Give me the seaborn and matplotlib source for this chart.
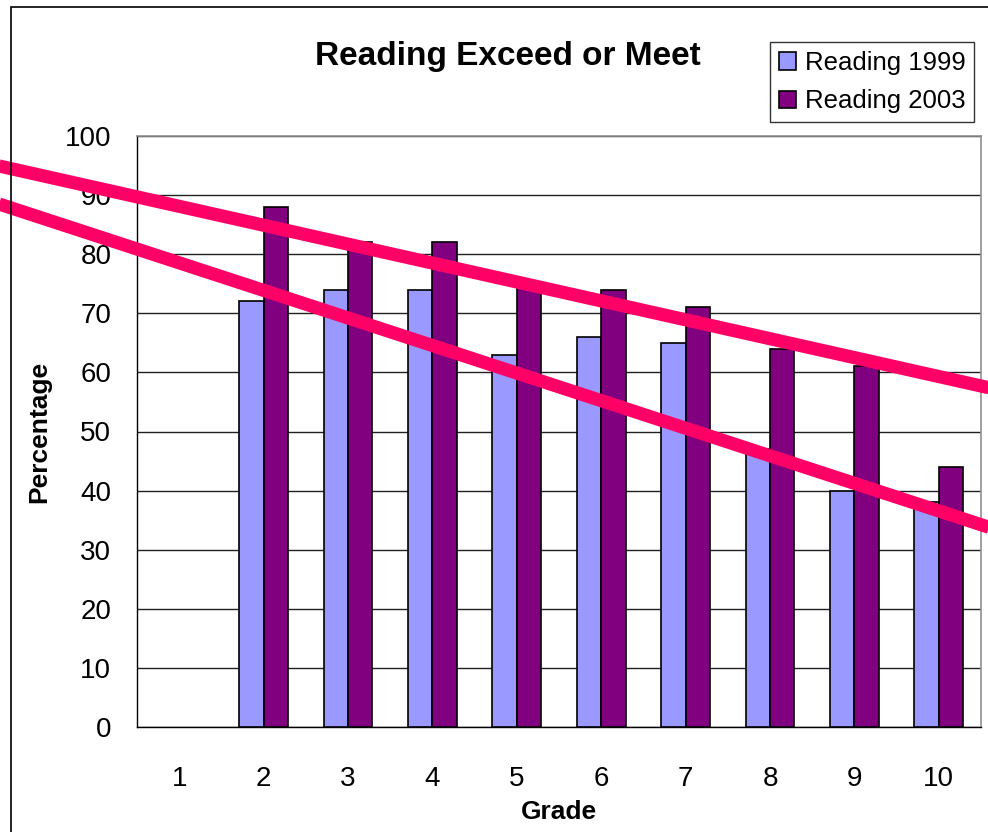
import numpy as np
import pandas as pd
import seaborn as sns
import matplotlib
matplotlib.use("Agg")
import matplotlib.pyplot as plt
from matplotlib.patches import Rectangle

# Data: percentage of students that exceed or meet the reading standard
grades = ["1", "2", "3", "4", "5", "6", "7", "8", "9", "10"]
reading_1999 = [np.nan, 72, 74, 74, 63, 66, 65, 47, 40, 38]
reading_2003 = [np.nan, 88, 82, 82, 75, 74, 71, 64, 61, 44]
series_names = ["Reading 1999", "Reading 2003"]
series_colors = ["#9999FF", "#800080"]
y_ticks = [0, 10, 20, 30, 40, 50, 60, 70, 80, 90, 100]

# Hand-drawn trend lines (grade index on x, percentage on y)
trend_x = [-2.5, 10.0]
trend_upper = [96.1, 56.1]
trend_lower = [90.2, 31.9]

df = pd.DataFrame({
    "Grade": grades * 2,
    "Percentage": reading_1999 + reading_2003,
    "Series": [series_names[0]] * len(grades) + [series_names[1]] * len(grades),
})

sns.set_style("white")
plt.rcParams["font.family"] = ["Liberation Sans", "DejaVu Sans"]
plt.rcParams["text.color"] = "black"
plt.rcParams["axes.labelcolor"] = "black"
plt.rcParams["xtick.color"] = "black"
plt.rcParams["ytick.color"] = "black"

W, H = 988, 832
fig = plt.figure(figsize=(W / 100, H / 100), dpi=100)
ax = fig.add_axes([137 / W, 1 - 727 / H, (981 - 137) / W, (727 - 136) / H])

sns.barplot(data=df, x="Grade", y="Percentage", hue="Series", order=grades,
            hue_order=series_names, palette=series_colors, width=0.58,
            edgecolor="black", linewidth=1.2, saturation=1, errorbar=None,
            ax=ax, zorder=3)

ax.set_xlim(-0.5, 9.5)
ax.set_ylim(0, 100)
ax.set_yticks(y_ticks)
ax.yaxis.grid(True, color="#202020", linewidth=1.0, zorder=0)
ax.set_axisbelow(True)

# category boundaries as major ticks, labels at category centres
ax.set_xticks(np.arange(-0.5, 10.0, 1.0))
ax.set_xticklabels([])
ax.set_xticks(np.arange(len(grades)), minor=True)
ax.set_xticklabels(grades, minor=True)
ax.tick_params(axis="x", which="major", direction="out", length=8, width=1, color="black")
ax.tick_params(axis="x", which="minor", length=0, pad=28, labelsize=20)
ax.tick_params(axis="y", direction="out", length=8, width=1, color="black",
               pad=10.5, labelsize=20)

for side in ["left", "bottom"]:
    ax.spines[side].set_color("black")
    ax.spines[side].set_linewidth(1.0)
for side in ["top", "right"]:
    ax.spines[side].set_color("#909090")
    ax.spines[side].set_linewidth(1.2)

ax.set_xlabel("Grade", fontsize=19, fontweight="bold", labelpad=6)
ax.set_ylabel("Percentage", fontsize=19, fontweight="bold", labelpad=10)

ax.plot(trend_x, trend_upper, color="#FF0066", linewidth=9.5,
        solid_capstyle="butt", clip_on=False, zorder=5)
ax.plot(trend_x, trend_lower, color="#FF0066", linewidth=9.5,
        solid_capstyle="butt", clip_on=False, zorder=5)

# legend
handles, labels = ax.get_legend_handles_labels()
if ax.get_legend() is not None:
    ax.get_legend().remove()
leg = fig.legend(handles, labels, loc="upper left",
                 bbox_to_anchor=(770 / W, 1 - 42 / H), bbox_transform=fig.transFigure,
                 fontsize=18.5, frameon=True, fancybox=False, shadow=False,
                 borderpad=0.35, handlelength=0.65, handleheight=0.65,
                 handletextpad=0.35, labelspacing=0.55, borderaxespad=0)
leg.get_frame().set_edgecolor("black")
leg.get_frame().set_linewidth(1.0)

fig.text(508 / W, 1 - 57 / H, "Reading Exceed or Meet", ha="center", va="center",
         fontsize=24, fontweight="bold")

# outer chart border
fig.patches.append(Rectangle((11 / W, -0.1), 2.0, 0.1 + (1 - 7 / H),
                             transform=fig.transFigure, fill=False,
                             edgecolor="black", linewidth=1.2, zorder=0))

fig.savefig("out.png", dpi=100, facecolor="white")
